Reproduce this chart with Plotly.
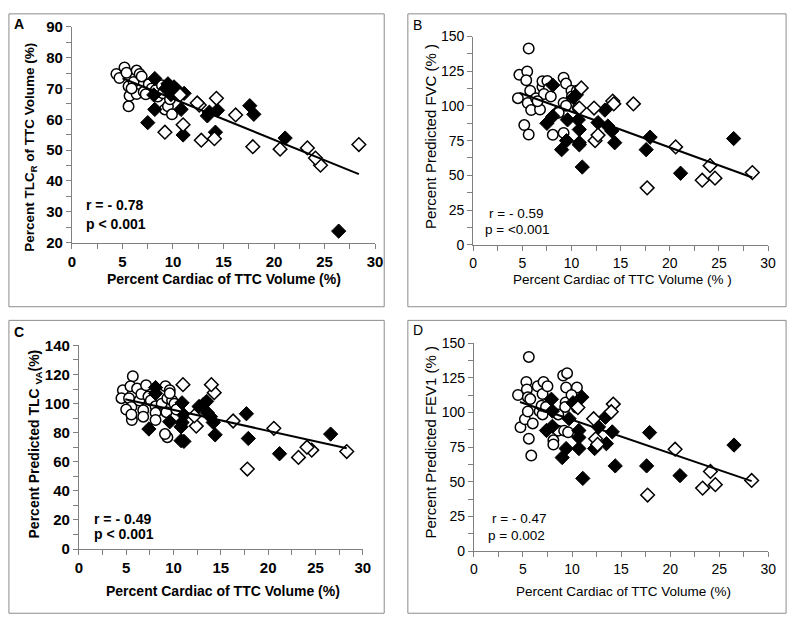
import plotly.graph_objects as go

W, H = 800, 630

# ---------------- data ----------------
# Panel A : Percent TLC_R of TTC volume
a_circle_x = [4.4, 4.7, 5.2, 5.4, 5.6, 5.6, 5.7, 6.1, 6.4, 6.4, 6.7, 6.9, 7.1, 7.6, 7.9, 8.3, 8.5, 8.9, 9.0, 9.2, 9.5, 9.9, 9.7, 5.9, 7.3]
a_circle_y = [74.7, 73.4, 76.8, 75.1, 70.7, 64.2, 67.6, 72.1, 75.8, 68.2, 74.7, 73.9, 68.9, 71.4, 70.0, 69.5, 67.4, 71.0, 68.4, 63.2, 64.2, 61.6, 66.5, 70.0, 68.1]
a_filled_x = [26.4, 21.1, 17.6, 18.0, 14.4, 14.2, 13.4, 13.6, 11.0, 10.8, 11.1, 10.4, 10.1, 9.7, 9.5, 9.8, 8.2, 8.2, 8.1, 7.5, 9.3]
a_filled_y = [23.7, 53.9, 64.4, 61.6, 62.9, 55.8, 61.1, 62.3, 54.9, 63.2, 68.4, 69.5, 70.5, 70.5, 71.5, 68.0, 73.2, 63.2, 67.9, 58.9, 70.0]
a_open_x = [28.4, 24.6, 24.1, 23.3, 20.6, 17.9, 16.2, 14.3, 14.1, 12.8, 12.6, 12.4, 11.0, 9.2, 10.7]
a_open_y = [51.8, 45.1, 47.4, 50.7, 50.3, 51.1, 61.4, 66.8, 53.7, 53.2, 64.6, 65.3, 58.2, 55.8, 67.9]
a_fit_x = [5.0, 28.4]
a_fit_y = [73.3, 42.2]

# Panel B : Percent predicted FVC
b_circle_x = [5.65, 4.7, 5.5, 5.4, 4.55, 5.55, 5.8, 5.2, 5.65, 5.9, 6.4, 6.8, 7.05, 7.05, 7.55, 7.7, 7.2, 6.55, 7.9, 8.1, 8.65, 9.2, 9.45, 9.2, 9.2, 9.45, 10.0, 10.05, 10.55, 10.65, 8.7]
b_circle_y = [141.4, 122.4, 124.8, 118.5, 105.6, 102.1, 111.0, 86.2, 79.4, 97.0, 105.6, 97.4, 113.8, 117.8, 118.0, 112.6, 108.6, 103.3, 106.8, 79.2, 95.6, 120.3, 116.1, 102.1, 80.6, 100.2, 111.0, 106.8, 111.0, 98.6, 95.1]
b_filled_x = [26.5, 21.1, 18.0, 17.6, 14.4, 14.1, 13.7, 13.4, 12.7, 11.1, 10.8, 10.8, 10.8, 10.7, 9.6, 9.5, 9.0, 8.1, 7.5, 8.1, 10.2, 10.5]
b_filled_y = [76.5, 51.5, 77.5, 68.5, 73.5, 82.0, 85.5, 97.0, 88.0, 56.0, 72.0, 73.5, 83.0, 90.0, 90.0, 75.0, 68.5, 92.5, 87.5, 115.0, 106.0, 108.0]
b_open_x = [28.4, 24.6, 24.1, 23.3, 20.6, 17.7, 16.3, 14.2, 14.3, 12.3, 12.4, 12.7, 11.0, 10.8]
b_open_y = [52.0, 48.0, 57.0, 46.5, 70.5, 41.0, 101.5, 103.5, 101.5, 98.5, 75.0, 79.0, 113.0, 98.5]
b_fit_x = [4.7, 28.4]
b_fit_y = [109.5, 48.5]

# Panel C : Percent predicted TLC VA
c_circle_x = [5.7, 4.65, 4.5, 5.3, 5.45, 5.55, 5.0, 5.6, 6.15, 6.4, 6.6, 7.1, 6.8, 6.8, 7.35, 7.6, 8.1, 8.1, 8.1, 8.75, 9.15, 9.35, 9.25, 9.35, 9.6, 9.85, 10.1, 10.3, 9.6, 5.55, 9.1]
c_circle_y = [118.8, 109.2, 103.7, 103.7, 111.9, 97.6, 95.9, 88.7, 110.3, 102.1, 106.6, 112.6, 95.4, 91.0, 104.8, 102.1, 98.1, 93.6, 88.7, 99.9, 111.9, 103.7, 94.1, 76.9, 109.2, 102.1, 99.9, 95.9, 107.0, 92.5, 79.0]
c_filled_x = [26.6, 21.2, 17.9, 17.7, 14.4, 14.2, 13.9, 13.6, 13.5, 13.1, 12.7, 11.1, 10.8, 11.1, 10.9, 10.8, 10.9, 9.6, 8.1, 8.1, 7.4]
c_filled_y = [79.0, 65.5, 76.0, 93.0, 78.5, 87.0, 91.0, 93.5, 101.5, 99.0, 98.0, 74.0, 74.5, 92.0, 87.0, 84.0, 100.5, 87.5, 111.0, 107.0, 82.5]
c_open_x = [28.3, 24.6, 24.1, 23.2, 20.6, 17.8, 16.3, 14.3, 14.0, 12.4, 11.0, 12.2]
c_open_y = [67.0, 68.0, 70.0, 63.0, 83.0, 55.0, 88.0, 107.5, 113.0, 84.5, 113.0, 91.5]
c_fit_x = [4.9, 28.3]
c_fit_y = [103.0, 69.3]

# Panel D : Percent predicted FEV1
d_circle_x = [5.6, 4.5, 5.35, 5.4, 5.5, 5.75, 4.75, 5.2, 5.5, 5.6, 5.85, 6.0, 6.5, 7.0, 7.1, 7.5, 6.7, 7.0, 6.9, 7.35, 8.1, 8.1, 8.6, 8.6, 9.1, 9.5, 9.4, 9.35, 9.3, 9.2, 9.6, 10.5, 9.95, 10.5]
d_circle_y = [140.0, 112.6, 122.0, 116.6, 111.0, 109.6, 89.3, 95.1, 100.7, 81.1, 68.9, 92.1, 118.9, 113.3, 122.0, 118.9, 100.9, 98.6, 104.9, 104.0, 79.9, 76.9, 98.6, 86.9, 126.6, 128.3, 118.0, 107.2, 104.0, 86.9, 85.7, 118.0, 112.6, 103.3]
d_filled_x = [26.5, 21.0, 17.9, 17.6, 14.4, 14.1, 13.5, 13.4, 12.7, 12.3, 11.1, 11.0, 10.7, 10.7, 10.7, 10.1, 9.7, 9.4, 9.0, 7.9, 8.0, 8.0, 7.4]
d_filled_y = [76.5, 54.5, 85.5, 61.5, 61.5, 86.0, 77.5, 96.5, 89.5, 74.0, 52.5, 111.0, 74.0, 82.0, 87.0, 107.0, 95.5, 74.0, 67.5, 109.5, 101.0, 90.0, 87.0]
d_open_x = [28.3, 24.6, 24.1, 23.3, 20.5, 17.7, 14.2, 14.0, 12.2, 12.4, 12.6, 10.6]
d_open_y = [51.0, 48.0, 57.5, 45.5, 73.5, 40.5, 106.0, 100.5, 95.5, 81.0, 77.0, 103.5]
d_fit_x = [4.7, 28.3]
d_fit_y = [107.5, 50.5]

# axis ranges / ticks
x_range = [0, 30]
y_ranges = {"A": [20, 90], "B": [0, 150], "C": [0, 140], "D": [0, 150]}
y_dticks = {"A": 10, "B": 25, "C": 20, "D": 25}

# ---------------- styling / layout ----------------
FONT = "Liberation Sans, Arial, sans-serif"
AXC = "#808080"

def px_x(p):
    return p / W

def px_y(p):
    return 1 - p / H

panels = {
    # name: (x0px, x1px, ytop_px, ybottom_px, bold)
    "A": (69, 376.7, 18.3, 240, True),
    "B": (476.3, 775.7, 28.3, 242.3, False),
    "C": (76, 364.3, 345.7, 555, True),
    "D": (477, 776, 343.3, 557.3, False),
}

data = {
    "A": (a_circle_x, a_circle_y, a_filled_x, a_filled_y, a_open_x, a_open_y, a_fit_x, a_fit_y),
    "B": (b_circle_x, b_circle_y, b_filled_x, b_filled_y, b_open_x, b_open_y, b_fit_x, b_fit_y),
    "C": (c_circle_x, c_circle_y, c_filled_x, c_filled_y, c_open_x, c_open_y, c_fit_x, c_fit_y),
    "D": (d_circle_x, d_circle_y, d_filled_x, d_filled_y, d_open_x, d_open_y, d_fit_x, d_fit_y),
}

fig = go.Figure()
layout = dict(
    width=W, height=H, margin=dict(l=0, r=0, t=0, b=0),
    paper_bgcolor="white", plot_bgcolor="white", showlegend=False,
    font=dict(family=FONT, color="black"),
)

for i, name in enumerate(["A", "B", "C", "D"]):
    n = "" if i == 0 else str(i + 1)
    xa, ya = "x" + n, "y" + n
    x0, x1, yt, yb, bold = panels[name]
    weight = "bold" if bold else "normal"
    cx, cy, fx, fy, ox, oy, lx, ly = data[name]
    fig.add_trace(go.Scatter(x=cx, y=cy, mode="markers", xaxis=xa, yaxis=ya,
                             marker=dict(symbol="circle", size=10.5, color="white",
                                         line=dict(color="black", width=1.5))))
    fig.add_trace(go.Scatter(x=fx, y=fy, mode="markers", xaxis=xa, yaxis=ya,
                             marker=dict(symbol="diamond", size=11, color="black",
                                         line=dict(color="black", width=1))))
    fig.add_trace(go.Scatter(x=ox, y=oy, mode="markers", xaxis=xa, yaxis=ya,
                             marker=dict(symbol="diamond", size=10.5, color="white",
                                         line=dict(color="black", width=1.5))))
    fig.add_trace(go.Scatter(x=lx, y=ly, mode="lines", xaxis=xa, yaxis=ya,
                             line=dict(color="black", width=2)))
    tsize = 15 if bold else 14
    common = dict(showline=True, linecolor=AXC, linewidth=1, ticks="outside",
                  tickcolor=AXC, ticklen=5, showgrid=False, zeroline=False,
                  tickfont=dict(family=FONT, size=tsize, color="black", weight=weight))
    layout["xaxis" + n] = dict(common, domain=[px_x(x0), px_x(x1)], range=x_range,
                               dtick=5, tick0=0, anchor=ya,
                               minor=dict(dtick=2.5, ticks="outside", ticklen=5, tickcolor=AXC))
    layout["yaxis" + n] = dict(common, domain=[px_y(yb), px_y(yt)], range=y_ranges[name],
                               dtick=y_dticks[name], tick0=0, anchor=xa,
                               minor=dict(dtick=y_dticks[name] / 2, ticks="outside", ticklen=5, tickcolor=AXC))

# panel frames
boxes = [(5, 5, 386, 306), (410, 5, 794, 306), (5, 320, 386, 621), (410, 320, 794, 621)]
shapes = []
for (bx0, by0, bx1, by1) in boxes:
    shapes.append(dict(type="rect", xref="paper", yref="paper",
                       x0=px_x(bx0), x1=px_x(bx1), y0=px_y(by1), y1=px_y(by0),
                       line=dict(color="#8c8c8c", width=1), fillcolor="rgba(0,0,0,0)"))
layout["shapes"] = shapes

def ann(text, xpx, ypx, size=14, bold=False, angle=0, xanchor="left"):
    return dict(text=text, xref="paper", yref="paper", x=px_x(xpx), y=px_y(ypx),
                xanchor=xanchor, yanchor="middle", showarrow=False, textangle=angle,
                font=dict(family=FONT, size=size, color="black",
                          weight="bold" if bold else "normal"))

annotations = [
    # panel letters
    ann("A", 8, 15, 14, True), ann("B", 413, 16, 14, False),
    ann("C", 8, 332, 14, True), ann("D", 413, 330, 14, False),
    # statistics
    ann("r = - 0.78", 81.7, 201.7, 14, True), ann("p < 0.001", 81.7, 220.7, 14, True),
    ann("r = - 0.59", 490, 210, 13.5, False), ann("p = <0.001", 486, 226.7, 13.5, False),
    ann("r = - 0.49", 89, 524, 14, True), ann("p < 0.001", 89, 540, 14, True),
    ann("r = - 0.47", 493, 524, 13.5, False), ann("p = 0.002", 489, 541, 13.5, False),
    # axis titles
    ann("Percent Cardiac of TTC Volume (%)", 223, 278, 14, True, xanchor="center"),
    ann("Percent Cardiac of TTC Volume (% )", 628, 278, 13.5, False, xanchor="center"),
    ann("Percent Cardiac of TTC Volume (%)", 222.5, 598, 14, True, xanchor="center"),
    ann("Percent Cardiac of TTC Volume (%)", 629, 599, 13.5, False, xanchor="center"),
    ann("Percent TLC<sub>R</sub> of TTC Volume (%)", 27, 142, 13.5, True, -90, "center"),
    ann("Percent Predicted FVC (% )", 433, 131, 15, False, -90, "center"),
    ann("Percent Predicted TLC <sub>VA</sub>(%)", 31, 447, 14, True, -90, "center"),
    ann("Percent Predicted FEV1 (% )", 433, 445, 15, False, -90, "center"),
]
layout["annotations"] = annotations

fig.update_layout(**layout)
fig.write_html("out.html", config={"displayModeBar": False},
               post_script="document.body.style.margin='0';document.body.style.overflow='hidden';")
